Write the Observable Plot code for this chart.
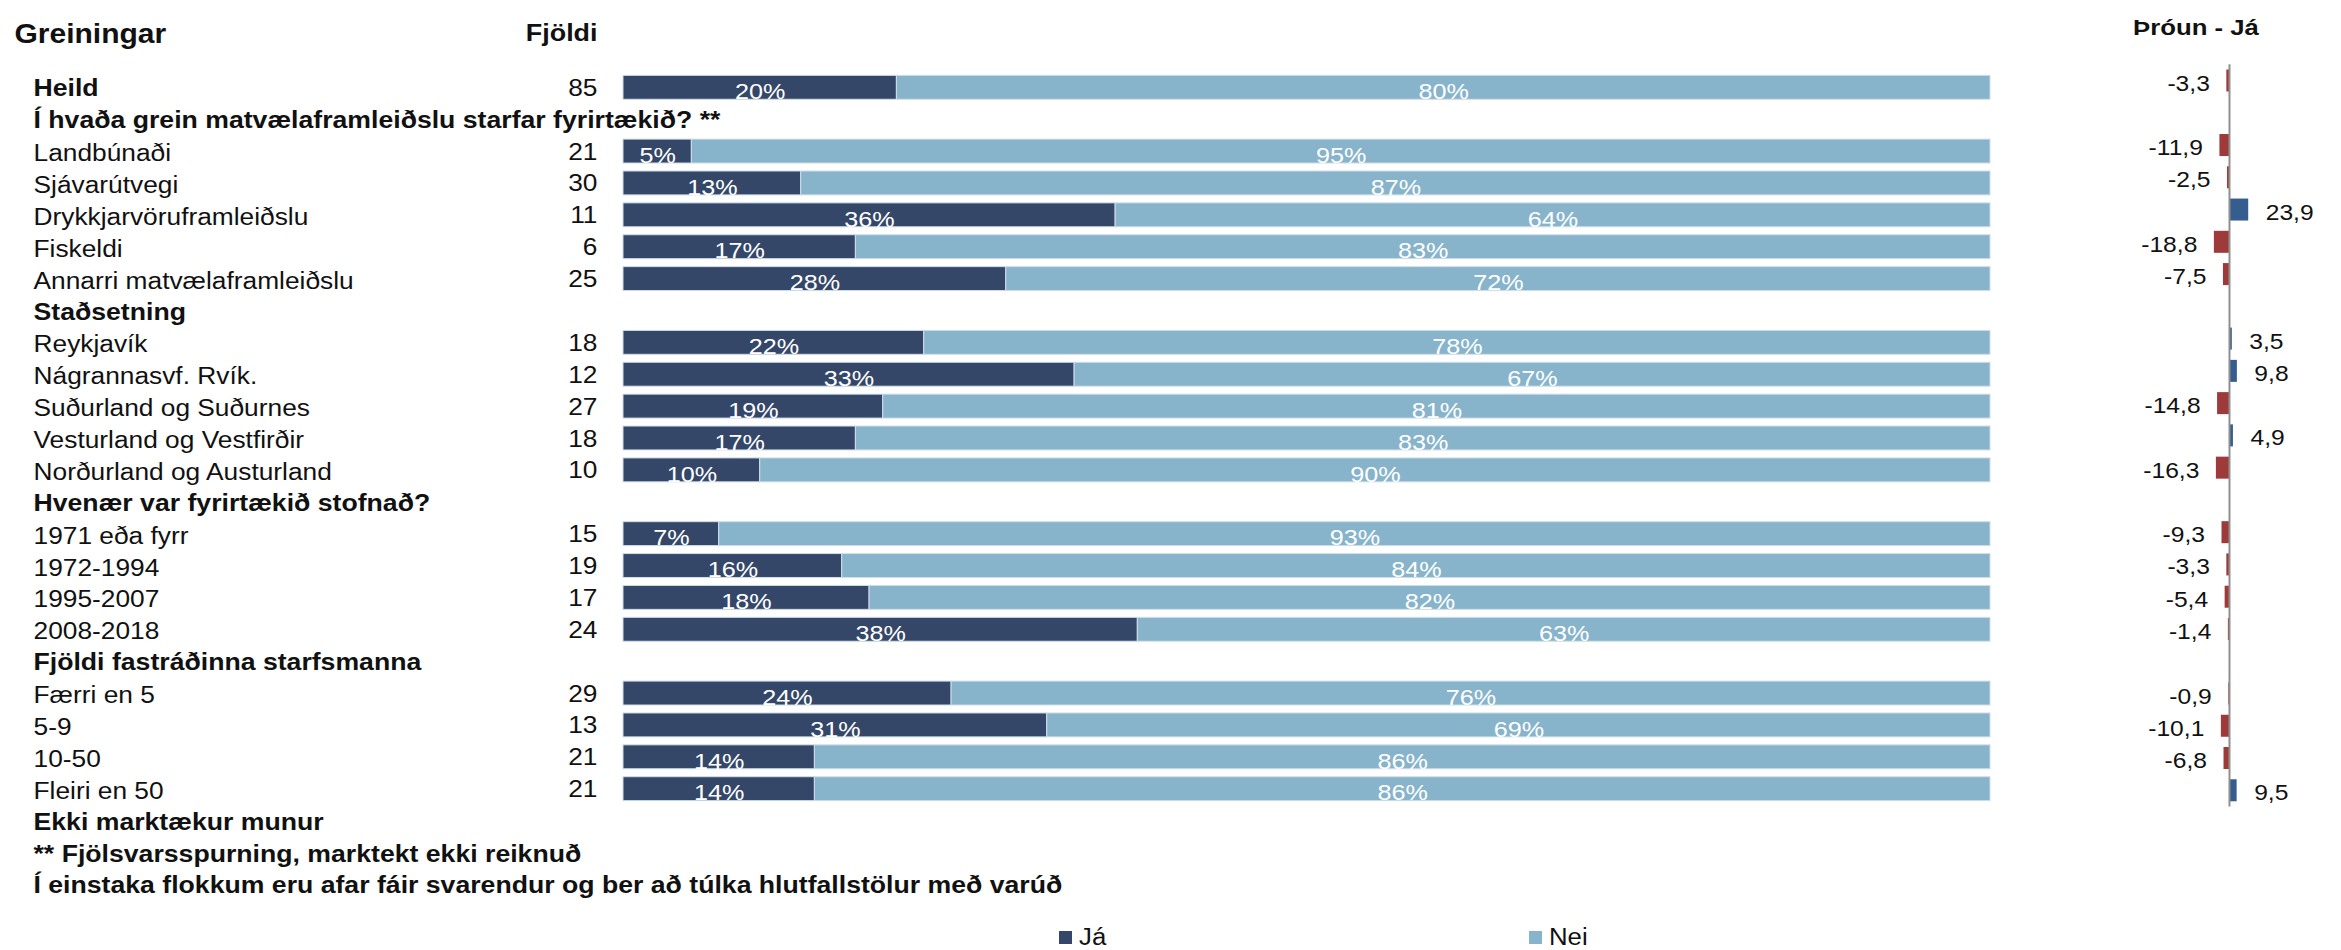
<!DOCTYPE html>
<html>
<head>
<meta charset="utf-8">
<script src="https://cdn.jsdelivr.net/npm/d3@7"></script>
<script src="https://cdn.jsdelivr.net/npm/@observablehq/plot@0.6"></script>
<style>
  html, body { margin: 0; padding: 0; background: white; }
  #wrap { position: relative; width: 2341px; height: 950px; overflow: hidden; font-family: "Liberation Sans", Arial, sans-serif; }
  #main { position: absolute; left: 0; top: 0; }
  #trend { position: absolute; left: 2080px; top: 0; }
  .leg { position: absolute; top: 927px; height: 20px; line-height: 20px; display: flex; align-items: center; font-size: 23px; color: #111; }
  .leg .sw { width: 13px; height: 13px; margin-right: 7px; }
  .leg .lab { display: inline-block; transform: scaleX(1.12); transform-origin: left center; }
</style>
</head>
<body>
<div id="wrap">
  <div id="main"></div>
  <div id="trend"></div>
  <div id="legend"></div>
</div>
<script>
// ---- data ----
const rowLabels = [
  "Heild",
  "Í hvaða grein matvælaframleiðslu starfar fyrirtækið? **",
  "Landbúnaði", "Sjávarútvegi", "Drykkjarvöruframleiðslu", "Fiskeldi", "Annarri matvælaframleiðslu",
  "Staðsetning",
  "Reykjavík", "Nágrannasvf. Rvík.", "Suðurland og Suðurnes", "Vesturland og Vestfirðir", "Norðurland og Austurland",
  "Hvenær var fyrirtækið stofnað?",
  "1971 eða fyrr", "1972-1994", "1995-2007", "2008-2018",
  "Fjöldi fastráðinna starfsmanna",
  "Færri en 5", "5-9", "10-50", "Fleiri en 50"
];
const boldRows = [
  "Heild",
  "Í hvaða grein matvælaframleiðslu starfar fyrirtækið? **",
  "Staðsetning",
  "Hvenær var fyrirtækið stofnað?",
  "Fjöldi fastráðinna starfsmanna"
];
const fjoldi = [85, null, 21, 30, 11, 6, 25, null, 18, 12, 27, 18, 10, null, 15, 19, 17, 24, null, 29, 13, 21, 21];
const ja     = [20, null, 5, 13, 36, 17, 28, null, 22, 33, 19, 17, 10, null, 7, 16, 18, 38, null, 24, 31, 14, 14];
const nei    = [80, null, 95, 87, 64, 83, 72, null, 78, 67, 81, 83, 90, null, 93, 84, 82, 63, null, 76, 69, 86, 86];
const trend  = [-3.3, null, -11.9, -2.5, 23.9, -18.8, -7.5, null, 3.5, 9.8, -14.8, 4.9, -16.3, null, -9.3, -3.3, -5.4, -1.4, null, -0.9, -10.1, -6.8, 9.5];
const footnotes = [
  "Ekki marktækur munur",
  "** Fjölsvarsspurning, marktekt ekki reiknuð",
  "Í einstaka flokkum eru afar fáir svarendur og ber að túlka hlutfallstölur með varúð"
];
const seriesNames = ["Já", "Nei"];
const seriesColors = ["#344768", "#87b4cb"];
const titleLeft = "Greiningar";
const titleCount = "Fjöldi";
const titleTrend = "Þróun - Já";

// ---- derived tables ----
const stacked = [];
rowLabels.forEach((r, i) => {
  if (ja[i] != null) {
    stacked.push({row: r, key: seriesNames[0], value: ja[i]});
    stacked.push({row: r, key: seriesNames[1], value: nei[i]});
  }
});
const counts = rowLabels.map((r, i) => ({row: r, n: fjoldi[i]})).filter(d => d.n != null);
const trendData = rowLabels.map((r, i) => ({row: r, v: trend[i]})).filter(d => d.v != null);
const fmt = v => v.toFixed(1).replace(".", ",");
const regularRows = rowLabels.filter(r => !boldRows.includes(r));
const boldAll = [...boldRows, ...footnotes];

// horizontal text stretch of the original rendering
const S = 1.12;
function stretch(svg) {
  svg.querySelectorAll("text").forEach(t => {
    const tr = t.getAttribute("transform") || "";
    t.setAttribute("transform", tr + ` scale(${S},1)`);
  });
  return svg;
}
const svgStyle = {fontFamily: "'Liberation Sans', Arial, sans-serif", background: "transparent", maxWidth: "none", overflow: "visible", color: "#111"};

const main = Plot.plot({
  width: 2341, height: 905,
  marginLeft: 623, marginRight: 351, marginTop: 71.36, marginBottom: 4.74,
  style: svgStyle,
  x: {domain: [0, 1], axis: null},
  y: {domain: [...rowLabels, ...footnotes], axis: null, paddingInner: 0.25, paddingOuter: 0.125, round: false},
  color: {domain: seriesNames, range: seriesColors},
  marks: [
    Plot.barX(stacked, Plot.stackX({x: "value", y: "row", fill: "key", offset: "normalize", stroke: "#cfdee8", strokeWidth: 1})),
    Plot.text(stacked, Plot.stackX({x: "value", y: "row", z: "key", text: d => d.value + "%", offset: "normalize", fill: "white", fontSize: 22.5, dy: 4})),
    Plot.text(regularRows, {y: d => d, text: d => d, frameAnchor: "left", textAnchor: "start", dx: -590, dy: 2, fontSize: 23.5, fill: "#111"}),
    Plot.text(boldAll, {y: d => d, text: d => d, frameAnchor: "left", textAnchor: "start", dx: -590, dy: 1, fontSize: 23.8, fontWeight: "bold", fill: "#111"}),
    Plot.text(counts, {y: "row", text: "n", frameAnchor: "left", textAnchor: "end", dx: -26, dy: 0.5, fontSize: 23.5, fill: "#111"}),
    Plot.text([titleLeft], {text: d => d, frameAnchor: "top-left", textAnchor: "start", dx: -609, dy: -48, fontSize: 26.8, fontWeight: "bold", fill: "#111"}),
    Plot.text([titleCount], {text: d => d, frameAnchor: "top-left", textAnchor: "end", dx: -26, dy: -48, fontSize: 24, fontWeight: "bold", fill: "#111"})
  ]
});
document.getElementById("main").appendChild(stretch(main));

const trendPlot = Plot.plot({
  width: 261, height: 830,
  marginLeft: 132.9, marginRight: 91.9, marginTop: 64.37, marginBottom: 23.6,
  style: svgStyle,
  x: {domain: [-20, 25], axis: null},
  y: {domain: rowLabels, axis: null, paddingInner: 0.318, paddingOuter: 0.159, round: false},
  marks: [
    Plot.barX(trendData, {x: "v", y: "row", fill: d => d.v < 0 ? "#9e3a39" : "#355e8e"}),
    Plot.ruleX([0], {stroke: "#8f8f8f", strokeWidth: 2}),
    Plot.text(trendData.filter(d => d.v < 0), {x: "v", y: "row", text: d => fmt(d.v), textAnchor: "end", dx: -17, dy: 2.5, fontSize: 22, fill: "#111"}),
    Plot.text(trendData.filter(d => d.v >= 0), {x: "v", y: "row", text: d => fmt(d.v), textAnchor: "start", dx: 17, dy: 2.5, fontSize: 22, fill: "#111"}),
    Plot.text([titleTrend], {text: d => d, frameAnchor: "top-left", textAnchor: "middle", dx: -17.4, dy: -46, fontSize: 23, fontWeight: "bold", fill: "#111"})
  ]
});
document.getElementById("trend").appendChild(stretch(trendPlot));

// legend
const legendPos = [1059, 1529];
const legend = document.getElementById("legend");
seriesNames.forEach((name, i) => {
  const item = document.createElement("div");
  item.className = "leg";
  item.style.left = legendPos[i] + "px";
  item.innerHTML = `<span class="sw" style="background:${seriesColors[i]}"></span><span class="lab">${name}</span>`;
  legend.appendChild(item);
});
</script>
</body>
</html>
